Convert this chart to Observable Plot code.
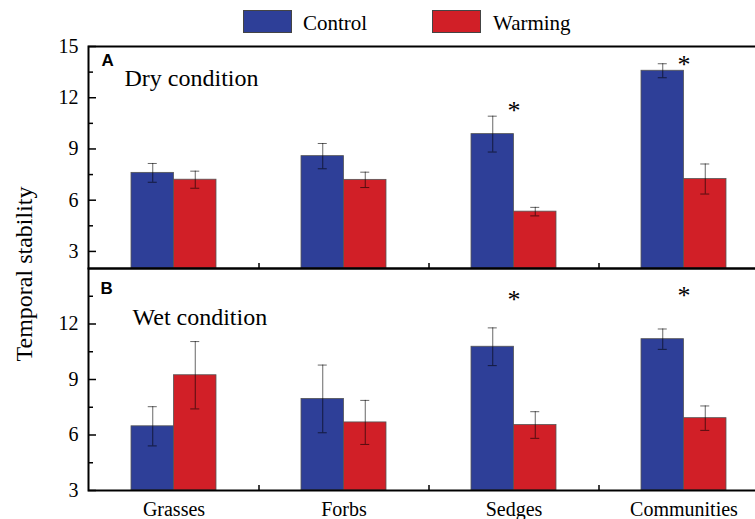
<!DOCTYPE html>
<html><head><meta charset="utf-8">
<script src="https://cdn.jsdelivr.net/npm/d3@7"></script>
<script src="https://cdn.jsdelivr.net/npm/@observablehq/plot@0.6"></script>
<style>
body{margin:0;background:#fff;overflow:hidden;}
#wrap{position:relative;width:755px;height:519px;overflow:hidden;font-family:"Liberation Serif","Times New Roman",serif;color:#000;}
.sw{position:absolute;width:49px;height:23px;border:1px solid #444;box-sizing:border-box;}
.lg{position:absolute;font-size:21px;line-height:21px;white-space:nowrap;}
#ylab{position:absolute;left:24px;top:274px;font-size:24px;line-height:24px;white-space:nowrap;transform:translate(-50%,-50%) rotate(-90deg);}
svg.pn{position:absolute;left:0;max-width:none !important;width:770px;}
svg.pn text{font-family:"Liberation Serif","Times New Roman",serif;}
svg.pn text.ltr{font-family:"Liberation Sans",Arial,sans-serif;font-weight:bold;}
</style></head>
<body><div id="wrap"></div>
<script>
// ---- data ----
const categories = ["Grasses", "Forbs", "Sedges", "Communities"];
const treatments = ["Control", "Warming"];
const colors = ["#2E3F98", "#D11F27"];

const dryControl   = [7.60, 8.58, 9.87, 13.58];
const dryControlSE = [0.55, 0.74, 1.05, 0.41];
const dryWarming   = [7.20, 7.19, 5.33, 7.24];
const dryWarmingSE = [0.50, 0.45, 0.25, 0.88];
const dryStars     = [null, null, 11.55, 14.2];

const wetControl   = [6.47, 7.95, 10.77, 11.18];
const wetControlSE = [1.06, 1.83, 1.02, 0.55];
const wetWarming   = [9.23, 6.68, 6.54, 6.91];
const wetWarmingSE = [1.82, 1.19, 0.72, 0.66];
const wetStars     = [null, null, 13.6, 13.8];

const dryTicks = [3, 6, 9, 12, 15];
const wetTicks = [3, 6, 9, 12];
const minorTicks = [4.5, 7.5, 10.5, 13.5];
const dryDomain = [2, 15];
const wetDomain = [3, 15];

// ---- build ----
function rowsOf(ctrl, ctrlSE, warm, warmSE) {
  return categories.flatMap((c, i) => [
    {cat: c, treat: "Control", v: ctrl[i], se: ctrlSE[i]},
    {cat: c, treat: "Warming", v: warm[i], se: warmSE[i]}
  ]);
}
const dryRows = rowsOf(dryControl, dryControlSE, dryWarming, dryWarmingSE);
const wetRows = rowsOf(wetControl, wetControlSE, wetWarming, wetWarmingSE);

const W = 770, ML = 88, MR = 2, PH = 222;
const plotW = W - ML - MR;
const step = plotW / categories.length;
const bw = step / 2;
const barW = bw / 2;
const capHalf = 4.5;
const serif = "Liberation Serif, serif";

function panel({rows, stars, domain, ticks, letter, letterDy, letterDx, label, labelDx, labelDy, showX, marginTop, marginBottom}) {
  const ctrl = rows.filter(d => d.treat === "Control");
  const warm = rows.filter(d => d.treat === "Warming");
  const starRows = categories.map((c, i) => ({cat: c, y: stars[i]})).filter(d => d.y != null);
  const ymin = domain[0];
  const errStyle = {stroke: "#000", strokeOpacity: 0.6, strokeWidth: 1};
  const marks = [
    Plot.barY(ctrl, {x: "cat", y1: ymin, y2: "v", insetRight: barW, fill: colors[0], stroke: "#555", strokeWidth: 0.8}),
    Plot.barY(warm, {x: "cat", y1: ymin, y2: "v", insetLeft: barW, fill: colors[1], stroke: "#555", strokeWidth: 0.8}),
    Plot.ruleX(ctrl, {x: "cat", y1: d => d.v - d.se, y2: d => d.v + d.se, dx: -barW / 2, ...errStyle}),
    Plot.ruleX(warm, {x: "cat", y1: d => d.v - d.se, y2: d => d.v + d.se, dx: barW / 2, ...errStyle}),
    Plot.tickY(ctrl, {x: "cat", y: d => d.v + d.se, insetLeft: barW / 2 - capHalf, insetRight: bw - barW / 2 - capHalf, ...errStyle}),
    Plot.tickY(ctrl, {x: "cat", y: d => d.v - d.se, insetLeft: barW / 2 - capHalf, insetRight: bw - barW / 2 - capHalf, ...errStyle}),
    Plot.tickY(warm, {x: "cat", y: d => d.v + d.se, insetLeft: bw - barW / 2 - capHalf, insetRight: barW / 2 - capHalf, ...errStyle}),
    Plot.tickY(warm, {x: "cat", y: d => d.v - d.se, insetLeft: bw - barW / 2 - capHalf, insetRight: barW / 2 - capHalf, ...errStyle}),
    Plot.text(starRows, {x: "cat", y: "y", text: () => "*", fontSize: 26, fontFamily: serif, dy: 5, fill: "#000"}),
    Plot.ruleY(minorTicks, {y: d => d, insetRight: plotW - 5, stroke: "#000", strokeWidth: 1.5}),
    Plot.ruleY(ticks, {y: d => d, insetRight: plotW - 8, stroke: "#000", strokeWidth: 1.5}),
    Plot.ruleX(categories.slice(0, -1), {x: d => d, dx: step / 2, insetTop: PH - 5, stroke: "#000", strokeWidth: 1.5}),
    Plot.axisY(ticks, {tickSize: 0, tickPadding: 10, label: null, fontSize: 20, fontFamily: serif, fill: "#000"}),
    Plot.frame({stroke: "#000", strokeWidth: 2}),
    Plot.text([letter], {frameAnchor: "top-left", textAnchor: "start", lineAnchor: "top", dx: letterDx, dy: letterDy, fontSize: 17, fontWeight: "bold", fill: "#000"}),
    Plot.text([label], {frameAnchor: "top-left", textAnchor: "start", lineAnchor: "top", dx: labelDx, dy: labelDy, fontSize: 24, fontFamily: serif, fill: "#000"})
  ];
  if (showX) marks.push(Plot.axisX({tickSize: 0, tickPadding: 11, label: null, fontSize: 20, fontFamily: serif, fill: "#000"}));
  const svg = Plot.plot({
    width: W, height: marginTop + PH + marginBottom,
    marginLeft: ML, marginRight: MR, marginTop, marginBottom,
    style: {fontFamily: serif, fontSize: "20px", color: "#000", background: "transparent", maxWidth: "none"},
    x: {type: "band", domain: categories, paddingInner: 0.5, paddingOuter: 0.25, ...(showX ? {} : {axis: null})},
    y: {domain, axis: null},
    marks
  });
  svg.classList.add("pn");
  svg.querySelectorAll("text").forEach(t => { if (t.textContent === letter) t.classList.add("ltr"); });
  return svg;
}

const wrap = document.getElementById("wrap");

// legend
const lg = [
  {t: treatments[0], c: colors[0], sx: 243, tx: 303},
  {t: treatments[1], c: colors[1], sx: 432, tx: 493}
];
lg.forEach(d => {
  const s = document.createElement("div");
  s.className = "sw"; s.style.left = d.sx + "px"; s.style.top = "10px"; s.style.background = d.c;
  wrap.appendChild(s);
  const t = document.createElement("div");
  t.className = "lg"; t.style.left = d.tx + "px"; t.style.top = "13px"; t.textContent = d.t;
  wrap.appendChild(t);
});

const topPanel = panel({rows: dryRows, stars: dryStars, domain: dryDomain, ticks: dryTicks,
  letter: "A", letterDx: 13, letterDy: 7, label: "Dry condition", labelDx: 36, labelDy: 22,
  showX: false, marginTop: 10, marginBottom: 2});
topPanel.style.top = "36px";
wrap.appendChild(topPanel);

const botPanel = panel({rows: wetRows, stars: wetStars, domain: wetDomain, ticks: wetTicks,
  letter: "B", letterDx: 12, letterDy: 13, label: "Wet condition", labelDx: 44, labelDy: 39,
  showX: true, marginTop: 10, marginBottom: 29});
botPanel.style.top = "258px";
wrap.appendChild(botPanel);

const yl = document.createElement("div");
yl.id = "ylab"; yl.textContent = "Temporal stability";
wrap.appendChild(yl);
</script>
</body></html>
